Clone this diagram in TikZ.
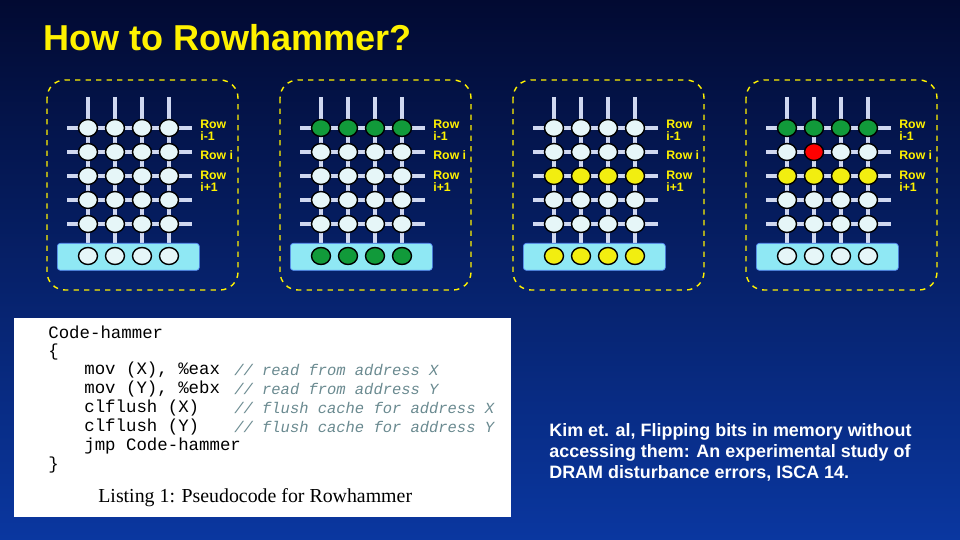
\documentclass[tikz,border=0pt]{standalone}
\usepackage{fontspec}
\setmainfont{Liberation Sans}
\newfontfamily\codefont{Liberation Mono}
\newfontfamily\capfont{Liberation Serif}
\usetikzlibrary{positioning}
\definecolor{cellfill}{HTML}{E6F6F8}
\definecolor{barfill}{HTML}{8FE8F4}
\definecolor{wirecol}{HTML}{D0D8F0}
\definecolor{cellgreen}{HTML}{119A3A}
\definecolor{cellyellow}{HTML}{F2EE10}
\definecolor{commentcol}{HTML}{6A8A90}
\tikzset{
  cell/.style={draw=black, thick, ellipse, fill=cellfill, minimum width=19\px, minimum height=17\px, inner sep=0pt},
  rowlabel/.style={text=yellow, font=\bfseries\fontsize{7}{7}\selectfont, align=left, anchor=west, inner sep=0pt},
  codeline/.style={anchor=west, inner sep=0pt, font=\codefont\fontsize{9.9}{9.9}\selectfont}
}
\newlength{\px}\setlength{\px}{0.02cm}
\usetikzlibrary{shapes.geometric}
\begin{document}
\begin{tikzpicture}[x=0.02cm, y=-0.02cm]
  \useasboundingbox (0,0) rectangle (960,540);
  \shade[top color={rgb,255:red,2;green,10;blue,50}, bottom color={rgb,255:red,10;green,55;blue,160}] (0,0) rectangle (960,540);
  \node (title) [anchor=west, inner sep=0pt, text=yellow, font=\bfseries\fontsize{20.5}{20.5}\selectfont] at (43,38) {How to Rowhammer?};
  % four panels
  \foreach \p/\rowa/\rowc/\bar in {0/cellfill/cellfill/cellfill, 1/cellgreen/cellfill/cellgreen, 2/cellfill/cellyellow/cellyellow, 3/cellgreen/cellyellow/cellfill} {
    \begin{scope}[xshift=\p*233*0.02cm]
      \draw[yellow, dashed, thick, rounded corners=18\px] (47,80) rectangle (238,290);
      \foreach \c in {1,...,4}
        \draw[wirecol, line width=2.5pt] (61+27*\c,97) -- (61+27*\c,243);
      \foreach \r in {1,...,5}
        \draw[wirecol, line width=2.5pt] (67,104+24*\r) -- (192,104+24*\r);
      \node (bar\p) [draw=barfill!60!blue, fill=barfill, rounded corners=3\px, minimum width=142\px, minimum height=27\px, anchor=north west] at (57,243) {};
      \foreach \r in {1,...,5}
        \foreach \c in {1,...,4} {
          \ifnum\r=1 \def\cf{\rowa}\else\ifnum\r=3 \def\cf{\rowc}\else\def\cf{cellfill}\fi\fi
          \ifnum\p=3 \ifnum\r=2 \ifnum\c=2 \def\cf{red}\fi\fi\fi
          \node (c\p-\r-\c) [cell, fill=\cf] at (61+27*\c,104+24*\r) {};
        }
      \foreach \c in {1,...,4}
        \node (b\p-\c) [cell, fill=\bar] at (61+27*\c,256) {};
      \node (la\p) [rowlabel] at (200,130) {Row\\i-1};
      \node (lb\p) [rowlabel] at (200,155) {Row i};
      \node (lc\p) [rowlabel] at (200,181) {Row\\i+1};
    \end{scope}
  }
  % listing
  \node (code) [fill=white, minimum width=497\px, minimum height=199\px, anchor=north west] at (14,318) {};
  \node (l1) [codeline] at (48,332) {Code-hammer};
  \node (l2) [codeline] at (48,352) {\{};
  \foreach \y/\ins/\cmt [count=\i from 3] in {370/{mov (X), \%eax}/{// read from address X},
      389/{mov (Y), \%ebx}/{// read from address Y},
      408/{clflush (X)}/{// flush cache for address X},
      427/{clflush (Y)}/{// flush cache for address Y}} {
    \node (l\i) [codeline] at (84,\y) {\ins};
    \node (m\i) [codeline, text=commentcol, font=\codefont\itshape\fontsize{8.8}{8.8}\selectfont] at (234,\y) {\cmt};
  }
  \node (l7) [codeline] at (84,446) {jmp Code-hammer};
  \node (l8) [codeline] at (48,465) {\}};
  \node (cap) [anchor=west, inner sep=0pt, font=\capfont\fontsize{11.3}{11.3}\selectfont] at (98,498) {Listing 1: Pseudocode for Rowhammer};
  \node (cite) [anchor=north west, inner sep=0pt, text=white, align=left, font=\bfseries\fontsize{10.2}{12}\selectfont] at (549,423) {Kim et. al, Flipping bits in memory without\\accessing them: An experimental study of\\DRAM disturbance errors, ISCA 14.};
\end{tikzpicture}
\end{document}
